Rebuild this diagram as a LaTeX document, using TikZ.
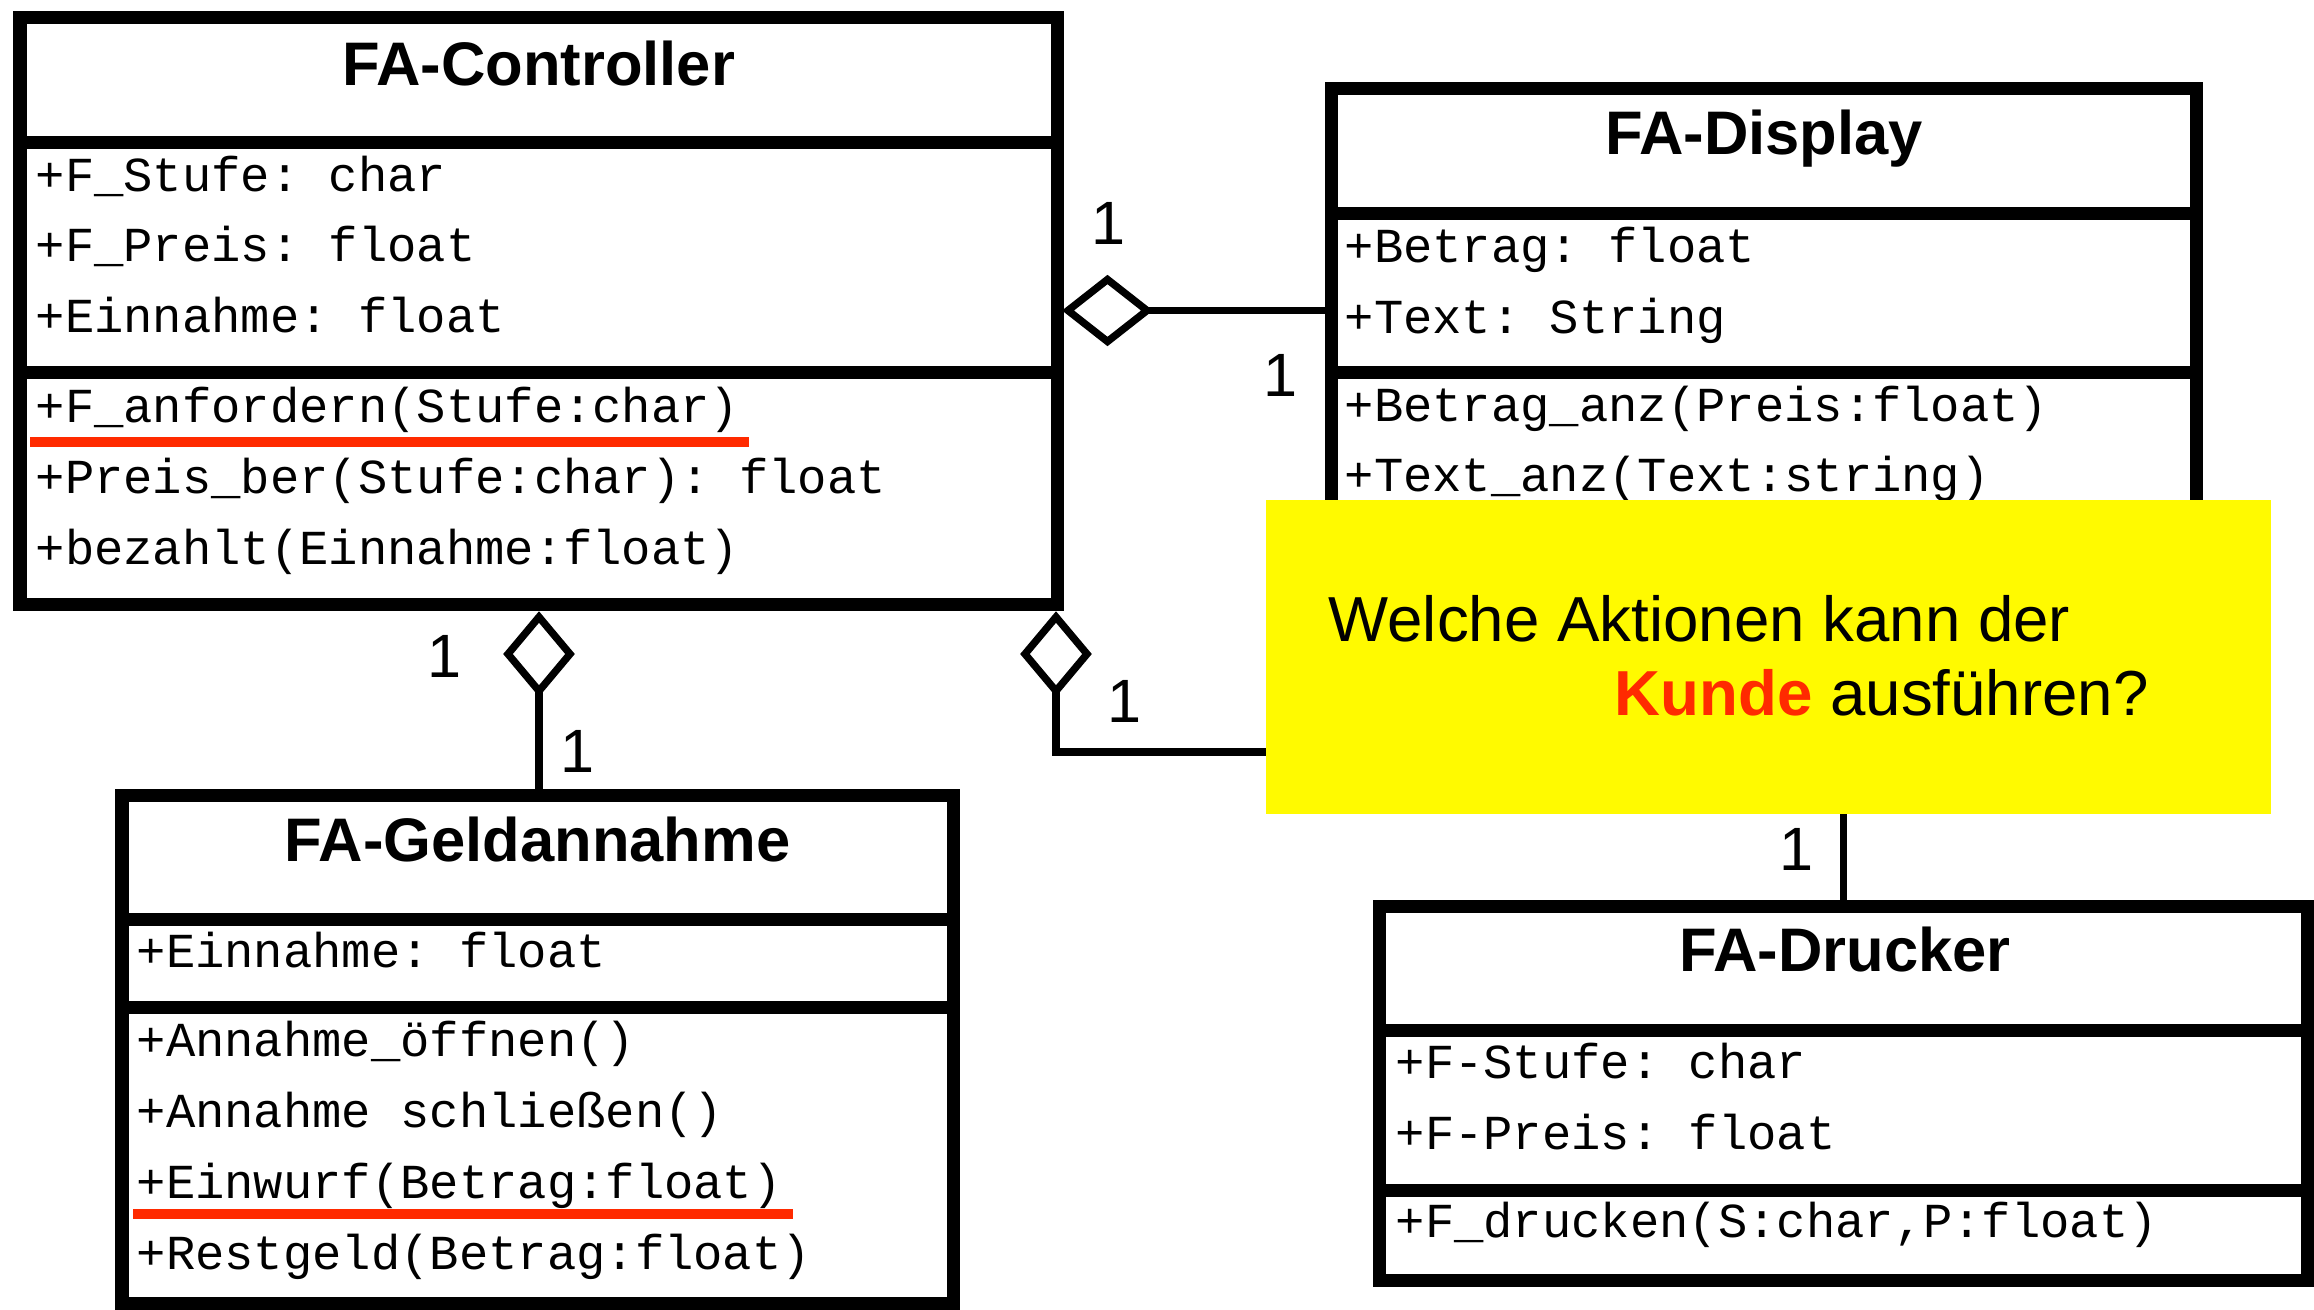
\documentclass[tikz,border=0pt]{standalone}
\usepackage{fontspec}
\setmainfont{Liberation Sans}
\newfontfamily\umlmono{Liberation Mono}
\usetikzlibrary{positioning,shapes.geometric}
\definecolor{hintgelb}{HTML}{FFFA00}
\definecolor{kundenrot}{HTML}{FF2A00}
\frenchspacing

\begin{document}
\begin{tikzpicture}[
        teil/.style={draw, line width=3.7pt, inner sep=0pt, outer sep=0pt, anchor=north west},
        titel/.style={font=\fontsize{17.5}{21}\selectfont\bfseries, anchor=base, inner sep=0pt},
        eintrag/.style={font=\umlmono\fontsize{13.9}{17}\selectfont, anchor=base west, inner sep=0pt},
        agg/.style={draw, diamond, fill=white, line width=2.1pt, inner sep=0pt, outer sep=0pt},
        verb/.style={line width=2.1pt},
        mult/.style={font=\fontsize{17.4}{21}\selectfont, anchor=base, inner sep=0pt},
        anstrich/.style={draw=kundenrot, line width=2.8pt},
        hinweis/.style={font=\fontsize{18.1}{22}\selectfont, anchor=base west, inner sep=0pt}]
      \useasboundingbox (0,0) rectangle (23.14,-13.10);

      % FA-Controller
      \node[teil, minimum width=10.37cm, minimum height=1.245cm] (ctrl-kopf) at (0.20,-0.175) {};
      \node[teil, minimum width=10.37cm, minimum height=2.30cm] (ctrl-attr) at (ctrl-kopf.south west) {};
      \node[teil, minimum width=10.37cm, minimum height=2.32cm] (ctrl-meth) at (ctrl-attr.south west) {};
      \node[titel] (ctrl-titel) at (5.385,-0.85) {FA-Controller};
      \foreach \z [count=\i from 0] in {+F\_Stufe: char, +F\_Preis: float, +Einnahme: float}
        \node[eintrag] (ctrl-a\i) at (0.35,-1.91-0.705*\i) {\z};
      \foreach \z [count=\i from 0] in {+F\_anfordern(Stufe:char), +Preis\_ber(Stufe:char): float, +bezahlt(Einnahme:float)}
        \node[eintrag] (ctrl-m\i) at (0.35,-4.22-0.713*\i) {\z};

      % FA-Display
      \node[teil, minimum width=8.65cm, minimum height=1.244cm] (disp-kopf) at (13.31,-0.886) {};
      \node[teil, minimum width=8.65cm, minimum height=1.595cm] (disp-attr) at (disp-kopf.south west) {};
      \node[teil, minimum width=8.65cm, minimum height=1.585cm] (disp-meth) at (disp-attr.south west) {};
      \node[titel] (disp-titel) at (17.64,-1.545) {FA-Display};
      \foreach \z [count=\i from 0] in {+Betrag: float, +Text: String}
        \node[eintrag] (disp-a\i) at (13.44,-2.625-0.711*\i) {\z};
      \foreach \z [count=\i from 0] in {+Betrag\_anz(Preis:float), +Text\_anz(Text:string)}
        \node[eintrag] (disp-m\i) at (13.44,-4.216-0.694*\i) {\z};

      % FA-Geldannahme
      \node[teil, minimum width=8.31cm, minimum height=1.24cm] (geld-kopf) at (1.22,-7.95) {};
      \node[teil, minimum width=8.31cm, minimum height=0.88cm] (geld-attr) at (geld-kopf.south west) {};
      \node[teil, minimum width=8.31cm, minimum height=2.96cm] (geld-meth) at (geld-attr.south west) {};
      \node[titel] (geld-titel) at (5.375,-8.617) {FA-Geldannahme};
      \node[eintrag] (geld-a0) at (1.36,-9.678) {+Einnahme: float};
      \foreach \z [count=\i from 0] in {+Annahme\_öffnen(), +Annahme schließen(), +Einwurf(Betrag:float), +Restgeld(Betrag:float)}
        \node[eintrag] (geld-m\i) at (1.36,-10.56-0.71*\i) {\z};

      % FA-Drucker
      \node[teil, minimum width=9.275cm, minimum height=1.24cm] (druck-kopf) at (13.795,-9.06) {};
      \node[teil, minimum width=9.275cm, minimum height=1.60cm] (druck-attr) at (druck-kopf.south west) {};
      \node[teil, minimum width=9.275cm, minimum height=0.90cm] (druck-meth) at (druck-attr.south west) {};
      \node[titel] (druck-titel) at (18.45,-9.71) {FA-Drucker};
      \foreach \z [count=\i from 0] in {+F-Stufe: char, +F-Preis: float}
        \node[eintrag] (druck-a\i) at (13.95,-10.785-0.709*\i) {\z};
      \node[eintrag] (druck-m0) at (13.95,-12.37) {+F\_drucken(S:char,P:float)};

      % Unterstreichungen
      \draw[anstrich] ([shift={(-0.05,-0.20)}]ctrl-m0.base west) -- ([shift={(0.09,-0.20)}]ctrl-m0.base east);
      \draw[anstrich] ([shift={(-0.03,-0.163)}]geld-m2.base west) -- ([shift={(0.11,-0.163)}]geld-m2.base east);

      % Aggregationen
      \node[agg, minimum width=0.79cm, minimum height=0.62cm] (agg1) at (11.075,-3.105) {};
      \node[agg, minimum width=0.62cm, minimum height=0.74cm] (agg2) at (5.39,-6.54) {};
      \node[agg, minimum width=0.62cm, minimum height=0.74cm] (agg3) at (10.56,-6.54) {};
      \coordinate[below=0.61cm of agg3] (knick);
      \draw[verb] (agg1.east) -- (agg1.east -| disp-attr.west);
      \draw[verb] (agg2.south) -- (agg2.south |- geld-kopf.north);
      \draw[verb] (agg3.south) -- (knick) -| (druck-kopf.north);

      \node[mult] (m1) at (11.08,-2.44) {1};
      \node[mult] (m2) at (12.80,-3.96) {1};
      \node[mult] (m3) at (4.45,-6.77) {1};
      \node[mult] (m4) at (5.78,-7.72) {1};
      \node[mult] (m5) at (11.24,-7.22) {1};
      \node[mult] (m6) at (17.96,-8.70) {1};

      % Frage
      \node[fill=hintgelb, inner sep=0pt, anchor=north west, minimum width=10.05cm, minimum height=3.14cm] (frage) at (12.65,-4.99) {};
      \node[hinweis] (frage1) at (13.28,-6.41) {Welche Aktionen kann der};
      \node[hinweis] (frage2) at (16.14,-7.156) {\textcolor{kundenrot}{\bfseries Kunde} ausführen?};
      \end{tikzpicture}
\end{document}
